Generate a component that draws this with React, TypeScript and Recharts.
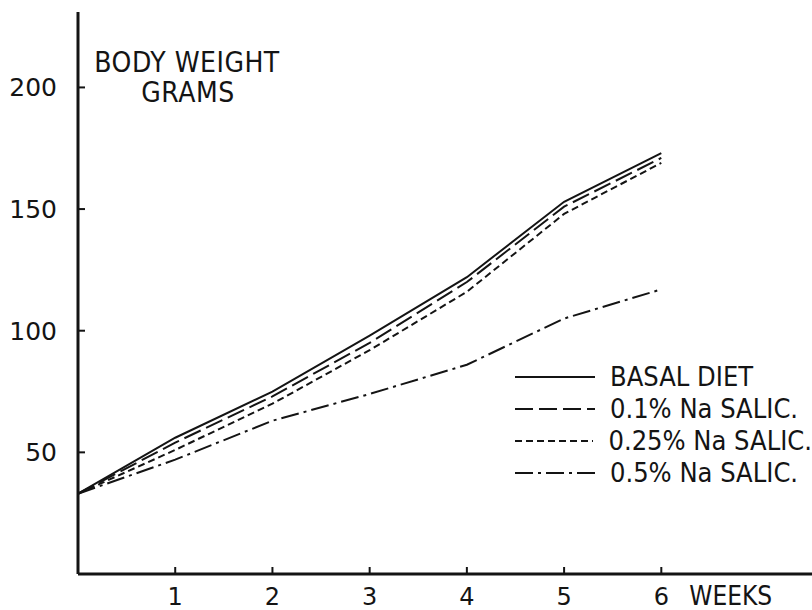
import React from 'react';
import { LineChart, Line, XAxis, YAxis } from 'recharts';

const weeks = [0, 1, 2, 3, 4, 5, 6];
const basalDiet = [33, 56, 75, 98, 122, 153, 173];
const naSalic01 = [33, 54, 73, 95, 120, 151, 171];
const naSalic025 = [33, 51, 70, 92, 116, 148, 169];
const naSalic05 = [33, 47, 63, 74, 86, 105, 117];
const xTicks = [1, 2, 3, 4, 5, 6];
const yTicks = [50, 100, 150, 200];

const seriesNames = ['BASAL DIET', '0.1% Na SALIC.', '0.25% Na SALIC.', '0.5% Na SALIC.'];
const seriesKeys = ['basal', 's01', 's025', 's05'];
const dashes = ['0', '18 6', '7 4', '18 5 3 5'];

const data = weeks.map((w, i) => ({
  week: w,
  basal: basalDiet[i],
  s01: naSalic01[i],
  s025: naSalic025[i],
  s05: naSalic05[i],
}));

const INK = '#141414';
const FONT = '"DejaVu Sans Condensed", "DejaVu Sans", sans-serif';
const NUMFONT = '"DejaVu Sans", sans-serif';

const XTick = (props: any) => {
  const { x, y, payload } = props;
  return (
    <g>
      <line x1={x} y1={y} x2={x} y2={y - 7} stroke={INK} strokeWidth={2} />
      <text x={x} y={y + 31} textAnchor="middle" fontFamily={NUMFONT} fontSize={24} fill={INK}>
        {payload.value}
      </text>
      {payload.value === 6 ? (
        <text x={x + 28} y={y + 31} textAnchor="start" fontFamily={FONT} fontSize={26} fill={INK}>
          WEEKS
        </text>
      ) : null}
    </g>
  );
};

const YTick = (props: any) => {
  const { x, y, payload } = props;
  return (
    <g>
      <line x1={x} y1={y} x2={x + 7} y2={y} stroke={INK} strokeWidth={2} />
      <text x={x - 21} y={y + 9} textAnchor="end" fontFamily={NUMFONT} fontSize={25} fill={INK}>
        {payload.value}
      </text>
    </g>
  );
};

const TitleLabel = () => (
  <g>
    <text x={187} y={72} textAnchor="middle" fontFamily={FONT} fontSize={28} fill={INK} letterSpacing={0.5}>
      BODY WEIGHT
    </text>
    <text x={188} y={102} textAnchor="middle" fontFamily={FONT} fontSize={28} fill={INK} letterSpacing={0.5}>
      GRAMS
    </text>
  </g>
);

const LegendBox = () => (
  <div style={{ position: 'absolute', left: 515, top: 361, width: 297, display: 'flex', flexDirection: 'column' }}>
    {seriesNames.map((name, i) => (
      <div key={name} style={{ display: 'flex', alignItems: 'center', height: 32 }}>
        <svg width={80} height={32} style={{ display: 'block' }}>
          <line x1={0} y1={16} x2={80} y2={16} stroke={INK} strokeWidth={2} strokeDasharray={dashes[i]} />
        </svg>
        <span
          style={{
            marginLeft: 15,
            fontFamily: FONT,
            fontSize: 27,
            color: INK,
            whiteSpace: 'nowrap',
            lineHeight: '32px',
          }}
        >
          {name}
        </span>
      </div>
    ))}
  </div>
);

export default function App() {
  return (
    <div style={{ position: 'absolute', left: 0, top: 0, width: 812, height: 610, background: '#fff', overflow: 'hidden' }}>
      <LineChart width={812} height={610} data={data} margin={{ top: 12, right: 0, bottom: 0, left: 0 }}>
        <XAxis
          dataKey="week"
          type="number"
          domain={[0, 7.55]}
          ticks={xTicks}
          height={36}
          axisLine={{ stroke: INK, strokeWidth: 3 }}
          tickLine={false}
          tickSize={0}
          tickMargin={0}
          tick={<XTick />}
          allowDataOverflow
        />
        <YAxis
          type="number"
          domain={[0, 231]}
          ticks={yTicks}
          width={78}
          axisLine={{ stroke: INK, strokeWidth: 3 }}
          tickLine={false}
          tickSize={0}
          tickMargin={0}
          tick={<YTick />}
          label={<TitleLabel />}
          allowDataOverflow
        />
        {seriesKeys.map((k, i) => (
          <Line
            key={k}
            dataKey={k}
            name={seriesNames[i]}
            type="linear"
            stroke={INK}
            strokeWidth={2}
            strokeDasharray={dashes[i]}
            dot={false}
            activeDot={false}
            isAnimationActive={false}
          />
        ))}
      </LineChart>
      <LegendBox />
    </div>
  );
}
